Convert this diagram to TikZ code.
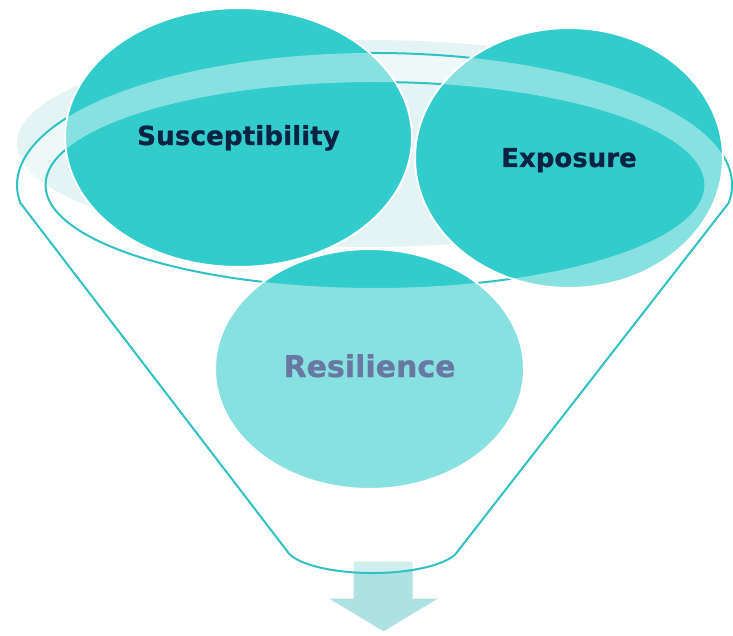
\documentclass[tikz,border=0pt]{standalone}
\usepackage{fontspec}
\setmainfont[BoldFeatures={FakeBold=0.7}]{DejaVu Sans}
\usetikzlibrary{shapes.geometric}
\definecolor{circfill}{HTML}{33CCCC}
\definecolor{rimline}{HTML}{30C2C2}
\definecolor{bgell}{HTML}{E4F4F4}
\definecolor{arrowc}{HTML}{AEE2E2}
\definecolor{navytext}{HTML}{0C2242}
\definecolor{resiltext}{HTML}{6878A2}
\tikzset{
  circ/.style={ellipse, fill=circfill, draw=white, line width=2pt, inner sep=0pt},
  lbl/.style={anchor=base, text=navytext, font=\bfseries},
  rimstyle/.style={draw=rimline, line width=2pt},
  veil/.style={fill=white, fill opacity=0.42, even odd rule}
}
\begin{document}
\begin{tikzpicture}[x=1pt,y=1pt]
\useasboundingbox (0,0) rectangle (733,-636);
% back rim shade
\fill[bgell] (369,-143.5) ellipse [x radius=352, y radius=103.5];
% output arrow
\fill[arrowc, draw=white, line width=1pt] (353,-561) -- (413,-561) -- (413,-598) -- (440,-598) -- (383.5,-632) -- (327,-598) -- (353,-598) -- cycle;
% circles
\node[circ, minimum width=347pt, minimum height=259pt] (S) at (238.5,-137.5) {};
\node[circ, minimum width=308pt, minimum height=260pt] (E) at (569,-158) {};
\node[circ, minimum width=309pt, minimum height=240pt] (R) at (369.5,-369) {};
% funnel body veil (outside the inner mouth)
\path[veil]
  (728.7,-202.9) arc[start angle=-7.8, end angle=187.8, x radius=357.5, y radius=132]
  -- (286.8,-550.7) arc[start angle=190, end angle=350, x radius=87, y radius=27] -- cycle
  (375,-185) ellipse [x radius=329.5, y radius=103];
% funnel outline, hidden behind the circles
\begin{scope}[even odd rule]
  \clip (-10,10) rectangle (743,-646)
    (238.5,-137.5) ellipse [x radius=174.5, y radius=130.5]
    (569,-158) ellipse [x radius=155, y radius=131]
    (369.5,-369) ellipse [x radius=155.5, y radius=121];
  \draw[rimstyle, line join=round]
    (728.7,-202.9) arc[start angle=-7.8, end angle=187.8, x radius=357.5, y radius=132]
    -- (286.8,-550.7) arc[start angle=190, end angle=350, x radius=87, y radius=27] -- cycle;
  \draw[rimstyle] (375,-185) ellipse [x radius=329.5, y radius=103];
\end{scope}
% labels
\node[lbl, font=\fontsize{26.3}{30}\selectfont\bfseries] (St) at ([yshift=-7.5pt]S.center) {Susceptibility};
\node[lbl, font=\fontsize{26}{30}\selectfont\bfseries] (Et) at ([yshift=-9pt]E.center) {Exposure};
\node[lbl, text=resiltext, font=\fontsize{30}{34}\selectfont\bfseries] (Rt) at ([yshift=-8pt]R.center) {Resilience};
\end{tikzpicture}
\end{document}
